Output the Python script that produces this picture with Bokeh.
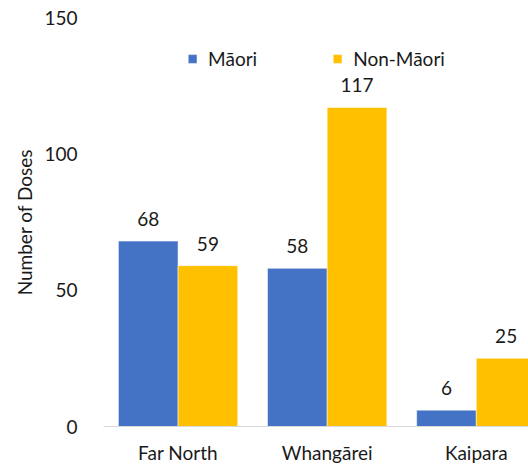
from bokeh.plotting import figure
from bokeh.models import ColumnDataSource, Range1d, FixedTicker
from bokeh.core.properties import value
from bokeh.embed import file_html
from bokeh.resources import INLINE

categories = ["Far North", "Whangārei", "Kaipara"]
maori = [68, 58, 6]
non_maori = [59, 117, 25]
y_ticks = [0, 50, 100, 150]

FONT = "Lato"
TXT = "#1a1a1a"
BLUE = "#4472C4"
GOLD = "#FFC000"
FS = "19px"

idx = list(range(len(categories)))
src_m = ColumnDataSource(dict(x=[i + 0.3 for i in idx], top=maori, lbl=[str(v) for v in maori]))
src_n = ColumnDataSource(dict(x=[i + 0.7 for i in idx], top=non_maori, lbl=[str(v) for v in non_maori]))

p = figure(width=528, height=466, output_backend="svg", toolbar_location=None,
           x_range=Range1d(0, 2.85), y_range=Range1d(0, 150),
           min_border_left=103, min_border_right=0, min_border_top=17, min_border_bottom=37)
p.outline_line_color = None
p.xgrid.visible = False
p.ygrid.visible = False

p.vbar(x="x", top="top", width=0.4, source=src_m, fill_color=BLUE, line_color="white",
       line_alpha=0.5, legend_label="Māori")
p.vbar(x="x", top="top", width=0.4, source=src_n, fill_color=GOLD, line_color="white",
       line_alpha=0.5, legend_label="Non-Māori")

for s in (src_m, src_n):
    p.text(x="x", y="top", text="lbl", source=s, text_align="center", text_baseline="alphabetic",
           y_offset=-22, text_font=value(FONT), text_font_size=FS, text_color=TXT)

p.xaxis.ticker = FixedTicker(ticks=[i + 0.5 for i in idx])
p.xaxis.major_label_overrides = {i + 0.5: c for i, c in zip(idx, categories)}
p.xaxis.major_tick_line_color = None
p.xaxis.major_tick_out = 0
p.xaxis.major_tick_in = 0
p.xaxis.minor_tick_line_color = None
p.xaxis.axis_line_color = "#D9D9D9"
p.xaxis.axis_line_width = 1
p.xaxis.major_label_standoff = 14
p.xaxis.major_label_text_font = FONT
p.xaxis.major_label_text_font_size = FS
p.xaxis.major_label_text_color = TXT

p.yaxis.ticker = FixedTicker(ticks=y_ticks)
p.yaxis.major_tick_line_color = None
p.yaxis.minor_tick_line_color = None
p.yaxis.axis_line_color = None
p.yaxis.major_label_standoff = 20
p.yaxis.major_label_text_font = FONT
p.yaxis.major_label_text_font_size = FS
p.yaxis.major_label_text_color = TXT
p.yaxis.axis_label = "Number of Doses"
p.yaxis.axis_label_standoff = 5
p.yaxis.axis_label_text_font = FONT
p.yaxis.axis_label_text_font_size = FS
p.yaxis.axis_label_text_font_style = "normal"
p.yaxis.axis_label_text_color = TXT

lg = p.legend[0]
lg.orientation = "horizontal"
lg.location = "top_center"
lg.margin = 30
lg.border_line_color = None
lg.background_fill_alpha = 0
lg.glyph_width = 11
lg.glyph_height = 11
lg.label_standoff = 11
lg.spacing = 74
lg.label_text_font = FONT
lg.label_text_font_size = FS
lg.label_text_color = TXT

open("out.html", "w").write(file_html(p, INLINE))
